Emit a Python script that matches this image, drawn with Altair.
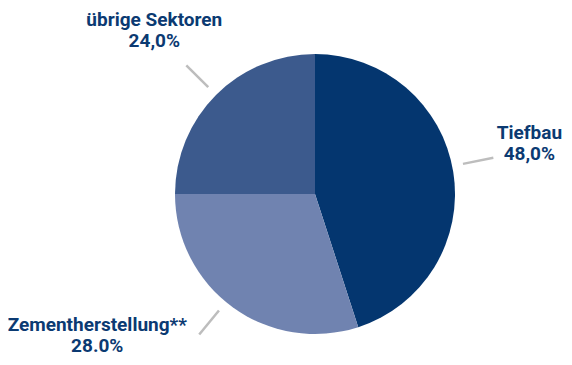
import altair as alt
import pandas as pd

# slice sizes as drawn (angles)
categories = ["Tiefbau", "Zementherstellung**", "übrige Sektoren"]
shares = [45, 30, 25]
# labels as printed on the chart
label_texts = ["Tiefbau\n48,0%", "Zementherstellung**\n28.0%", "übrige Sektoren\n24,0%"]
order = [1, 2, 3]

colors = ["#04366f", "#7083b0", "#3c5a8d"]
TEXT_COLOR = "#0b3a72"
LINE_COLOR = "#bdbdbd"

W, H = 556, 349
CX, CY = 307, 186
R = 140
R1, R2 = 151, 182

df = pd.DataFrame({"cat": categories, "share": shares, "label": label_texts, "ord": order})

xs = alt.Scale(domain=[-CX, W - CX])
ys = alt.Scale(domain=[-(H - CY), CY])

base = alt.Chart(df)

pie = base.mark_arc(radius=R, stroke=None).encode(
    theta=alt.Theta("share:Q", stack=True),
    order=alt.Order("ord:Q"),
    color=alt.Color("cat:N", scale=alt.Scale(domain=categories, range=colors), legend=None),
    x=alt.value(CX),
    y=alt.value(CY),
)

geo = base.transform_joinaggregate(total="sum(share)").transform_window(
    cum="sum(share)", sort=[alt.SortField("ord")]
).transform_calculate(
    mid="(datum.cum - datum.share/2) / datum.total * 2 * PI",
)

# layout tweaks per label: leader angle shift (degrees) and label offset (px)
angle_shift = {"Tiefbau": -2.5, "Zementherstellung**": 3.5, "übrige Sektoren": 0}
offsets = {"übrige Sektoren": (-32, -45), "Tiefbau": (36, -25), "Zementherstellung**": (-102, -9)}

layers = [pie]
for cat in categories:
    g = geo.transform_filter(alt.datum.cat == cat).transform_calculate(
        a=f"datum.mid + {angle_shift[cat]} * PI / 180"
    ).transform_calculate(
        x1=f"{R1} * sin(datum.a)",
        y1=f"{R1} * cos(datum.a)",
        x2=f"{R2} * sin(datum.a)",
        y2=f"{R2} * cos(datum.a)",
    )
    rule = g.mark_rule(color=LINE_COLOR, strokeWidth=2.5).encode(
        x=alt.X("x1:Q", scale=xs, axis=None),
        y=alt.Y("y1:Q", scale=ys, axis=None),
        x2="x2:Q",
        y2="y2:Q",
    )
    dx, dy = offsets[cat]
    txt = g.mark_text(
        font="Roboto", fontWeight="bold", fontSize=19, color=TEXT_COLOR,
        align="center", baseline="middle", lineHeight=21, lineBreak="\n",
        dx=dx, dy=dy,
    ).encode(
        x=alt.X("x2:Q", scale=xs, axis=None),
        y=alt.Y("y2:Q", scale=ys, axis=None),
        text="label:N",
    )
    layers += [rule, txt]

chart = alt.layer(*layers).properties(
    width=W, height=H, autosize=alt.AutoSizeParams(type="none"), padding=0,
).configure_view(stroke=None)

chart.save("out.html", embed_options={"renderer": "svg", "actions": False})
